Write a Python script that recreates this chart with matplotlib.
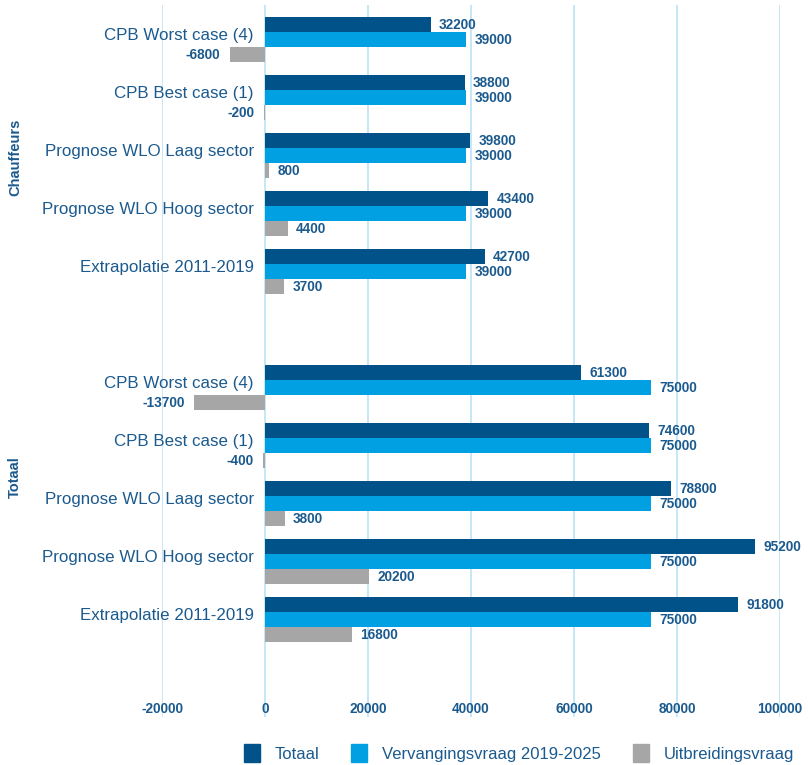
import matplotlib
matplotlib.use("Agg")
from matplotlib import pyplot as plt
from matplotlib.patches import Patch
from matplotlib.transforms import blended_transform_factory

plt.rcParams['font.family'] = ['Liberation Sans', 'DejaVu Sans']

# data
categories = ["CPB Worst case (4)", "CPB Best case (1)", "Prognose WLO Laag sector",
              "Prognose WLO Hoog sector", "Extrapolatie 2011-2019"]
groups = ["Chauffeurs", "Totaal"]
totaal_chauffeurs = [32200, 38800, 39800, 43400, 42700]
vervanging_chauffeurs = [39000, 39000, 39000, 39000, 39000]
uitbreiding_chauffeurs = [-6800, -200, 800, 4400, 3700]
totaal_totaal = [61300, 74600, 78800, 95200, 91800]
vervanging_totaal = [75000, 75000, 75000, 75000, 75000]
uitbreiding_totaal = [-13700, -400, 3800, 20200, 16800]
series_names = ["Totaal", "Vervangingsvraag 2019-2025", "Uitbreidingsvraag"]
xticks = [-20000, 0, 20000, 40000, 60000, 80000, 100000]

c_dark = '#005289'
c_light = '#00a0e2'
c_grey = '#a6a6a6'
c_text = '#1b5a8e'
c_grid = '#bfe5f8'

fig = plt.figure(figsize=(8.08, 7.65), dpi=100)
ax = fig.add_axes([0.2005, 0.0627, 0.7648, 0.9307])

# slot positions: 5 chauffeurs rows, a blank slot, 5 totaal rows
pos_ch = [0, 1, 2, 3, 4]
pos_tot = [6, 7, 8, 9, 10]
h = 0.259

for pos, tv, vv, uv in [(pos_ch, totaal_chauffeurs, vervanging_chauffeurs, uitbreiding_chauffeurs),
                        (pos_tot, totaal_totaal, vervanging_totaal, uitbreiding_totaal)]:
    for vals, off, col in [(tv, -h, c_dark), (vv, 0, c_light), (uv, h, c_grey)]:
        ys = [p + off for p in pos]
        ax.barh(ys, vals, height=h, color=col, zorder=2)
        for y, v in zip(ys, vals):
            if v >= 0:
                ax.annotate(str(v), (v, y), xytext=(6, 0), textcoords='offset points',
                            ha='left', va='center', fontsize=9.8, fontweight='bold', color=c_text)
            else:
                ax.annotate(str(v), (v, y), xytext=(-7, 0), textcoords='offset points',
                            ha='right', va='center', fontsize=9.8, fontweight='bold', color=c_text)

ax.set_xlim(-20000, 100000)
ax.set_ylim(11.681, -0.595)
ax.set_xticks(xticks)
ax.set_xticklabels([str(t) for t in xticks])
ax.xaxis.grid(True, color=c_grid, linewidth=1.3, zorder=0)
ax.set_axisbelow(True)
ax.tick_params(axis='x', length=0, pad=-10.5, labelsize=9.8, labelcolor=c_text)
for lbl in ax.get_xticklabels():
    lbl.set_fontweight('bold')

ax.set_yticks(pos_ch + pos_tot)
ax.set_yticklabels(categories + categories)
ax.tick_params(axis='y', length=0, pad=-66, labelsize=12.2, labelcolor=c_text)
for lbl in ax.get_yticklabels():
    lbl.set_verticalalignment('baseline')

for s in ax.spines.values():
    s.set_visible(False)

# group labels on the left
tr = blended_transform_factory(fig.transFigure, ax.transData)
ax.text(15 / 808, 2.03, groups[0], transform=tr, rotation=90, ha='center', va='center',
        fontsize=10.5, fontweight='bold', color=c_text)
ax.text(15 / 808, 7.54, groups[1], transform=tr, rotation=90, ha='center', va='center',
        fontsize=10.5, fontweight='bold', color=c_text)

handles = [Patch(color=c) for c in (c_dark, c_light, c_grey)]
leg = fig.legend(handles, series_names, loc='center', bbox_to_anchor=(519 / 808, 1 - 753 / 765),
                 ncol=3, frameon=False, fontsize=12.0, handlelength=0.95, handleheight=1.2,
                 columnspacing=1.9, handletextpad=0.9)
for t in leg.get_texts():
    t.set_color(c_text)

fig.savefig('out.png', dpi=100)
